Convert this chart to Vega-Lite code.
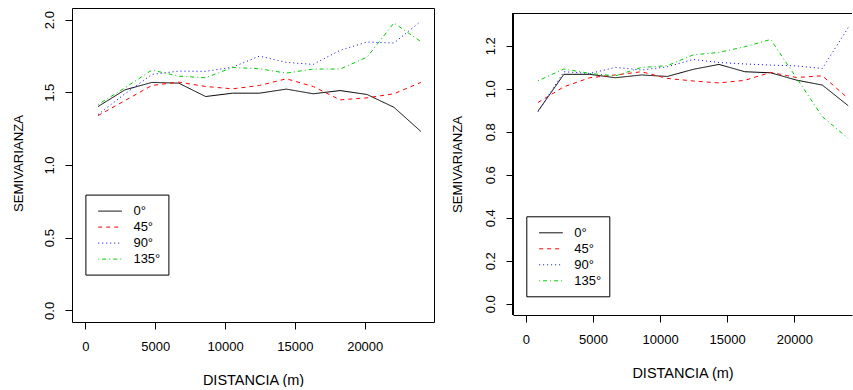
{
  "$schema": "https://vega.github.io/schema/vega-lite/v6.json",
  "background": "white",
  "padding": {"left": 11, "top": 7, "right": 0, "bottom": 0},
  "config": {
    "font": "Liberation Sans",
    "view": {"stroke": null},
    "axis": {
      "labelFont": "Liberation Sans", "labelFontSize": 13, "labelColor": "black",
      "titleFont": "Liberation Sans", "titleFontSize": 14, "titleFontWeight": "normal", "titleColor": "black",
      "tickColor": "black", "tickSize": 7, "domainColor": "black", "grid": false, "labelFlush": false
    },
    "axisX": {"titleFontSize": 14.5},
    "axisY": {"titleFontSize": 13.2},
    "legend": {"labelFont": "Liberation Sans"}
  },
  "datasets": {
    "left": [
      {"lag": 905, "g": 1.402, "dir": "0°"}, {"lag": 2831, "g": 1.517, "dir": "0°"}, {"lag": 4757, "g": 1.568, "dir": "0°"}, {"lag": 6683, "g": 1.563, "dir": "0°"}, {"lag": 8609, "g": 1.471, "dir": "0°"}, {"lag": 10535, "g": 1.494, "dir": "0°"}, {"lag": 12461, "g": 1.494, "dir": "0°"}, {"lag": 14387, "g": 1.522, "dir": "0°"}, {"lag": 16313, "g": 1.490, "dir": "0°"}, {"lag": 18239, "g": 1.512, "dir": "0°"}, {"lag": 20165, "g": 1.485, "dir": "0°"}, {"lag": 22091, "g": 1.397, "dir": "0°"}, {"lag": 24017, "g": 1.231, "dir": "0°"},
      {"lag": 905, "g": 1.340, "dir": "45°"}, {"lag": 2831, "g": 1.443, "dir": "45°"}, {"lag": 4757, "g": 1.547, "dir": "45°"}, {"lag": 6683, "g": 1.570, "dir": "45°"}, {"lag": 8609, "g": 1.540, "dir": "45°"}, {"lag": 10535, "g": 1.524, "dir": "45°"}, {"lag": 12461, "g": 1.547, "dir": "45°"}, {"lag": 14387, "g": 1.593, "dir": "45°"}, {"lag": 16313, "g": 1.540, "dir": "45°"}, {"lag": 18239, "g": 1.448, "dir": "45°"}, {"lag": 20165, "g": 1.462, "dir": "45°"}, {"lag": 22091, "g": 1.490, "dir": "45°"}, {"lag": 24017, "g": 1.568, "dir": "45°"},
      {"lag": 905, "g": 1.347, "dir": "90°"}, {"lag": 2831, "g": 1.490, "dir": "90°"}, {"lag": 4757, "g": 1.623, "dir": "90°"}, {"lag": 6683, "g": 1.646, "dir": "90°"}, {"lag": 8609, "g": 1.644, "dir": "90°"}, {"lag": 10535, "g": 1.673, "dir": "90°"}, {"lag": 12461, "g": 1.749, "dir": "90°"}, {"lag": 14387, "g": 1.706, "dir": "90°"}, {"lag": 16313, "g": 1.692, "dir": "90°"}, {"lag": 18239, "g": 1.789, "dir": "90°"}, {"lag": 20165, "g": 1.846, "dir": "90°"}, {"lag": 22091, "g": 1.839, "dir": "90°"}, {"lag": 24017, "g": 1.989, "dir": "90°"},
      {"lag": 905, "g": 1.416, "dir": "135°"}, {"lag": 2831, "g": 1.531, "dir": "135°"}, {"lag": 4757, "g": 1.653, "dir": "135°"}, {"lag": 6683, "g": 1.611, "dir": "135°"}, {"lag": 8609, "g": 1.600, "dir": "135°"}, {"lag": 10535, "g": 1.671, "dir": "135°"}, {"lag": 12461, "g": 1.662, "dir": "135°"}, {"lag": 14387, "g": 1.632, "dir": "135°"}, {"lag": 16313, "g": 1.660, "dir": "135°"}, {"lag": 18239, "g": 1.660, "dir": "135°"}, {"lag": 20165, "g": 1.742, "dir": "135°"}, {"lag": 22091, "g": 1.977, "dir": "135°"}, {"lag": 24017, "g": 1.849, "dir": "135°"}
    ],
    "right": [
      {"lag": 905, "g": 0.896, "dir": "0°"}, {"lag": 2831, "g": 1.067, "dir": "0°"}, {"lag": 4757, "g": 1.067, "dir": "0°"}, {"lag": 6683, "g": 1.051, "dir": "0°"}, {"lag": 8609, "g": 1.064, "dir": "0°"}, {"lag": 10535, "g": 1.057, "dir": "0°"}, {"lag": 12461, "g": 1.090, "dir": "0°"}, {"lag": 14387, "g": 1.113, "dir": "0°"}, {"lag": 16313, "g": 1.079, "dir": "0°"}, {"lag": 18239, "g": 1.074, "dir": "0°"}, {"lag": 20165, "g": 1.040, "dir": "0°"}, {"lag": 22091, "g": 1.017, "dir": "0°"}, {"lag": 24017, "g": 0.921, "dir": "0°"},
      {"lag": 905, "g": 0.936, "dir": "45°"}, {"lag": 2831, "g": 1.009, "dir": "45°"}, {"lag": 4757, "g": 1.051, "dir": "45°"}, {"lag": 6683, "g": 1.064, "dir": "45°"}, {"lag": 8609, "g": 1.079, "dir": "45°"}, {"lag": 10535, "g": 1.048, "dir": "45°"}, {"lag": 12461, "g": 1.036, "dir": "45°"}, {"lag": 14387, "g": 1.027, "dir": "45°"}, {"lag": 16313, "g": 1.039, "dir": "45°"}, {"lag": 18239, "g": 1.076, "dir": "45°"}, {"lag": 20165, "g": 1.052, "dir": "45°"}, {"lag": 22091, "g": 1.060, "dir": "45°"}, {"lag": 24017, "g": 0.955, "dir": "45°"},
      {"lag": 905, "g": 0.893, "dir": "90°"}, {"lag": 2831, "g": 1.079, "dir": "90°"}, {"lag": 4757, "g": 1.071, "dir": "90°"}, {"lag": 6683, "g": 1.099, "dir": "90°"}, {"lag": 8609, "g": 1.087, "dir": "90°"}, {"lag": 10535, "g": 1.102, "dir": "90°"}, {"lag": 12461, "g": 1.136, "dir": "90°"}, {"lag": 14387, "g": 1.122, "dir": "90°"}, {"lag": 16313, "g": 1.115, "dir": "90°"}, {"lag": 18239, "g": 1.110, "dir": "90°"}, {"lag": 20165, "g": 1.106, "dir": "90°"}, {"lag": 22091, "g": 1.094, "dir": "90°"}, {"lag": 24017, "g": 1.284, "dir": "90°"},
      {"lag": 905, "g": 1.037, "dir": "135°"}, {"lag": 2831, "g": 1.092, "dir": "135°"}, {"lag": 4757, "g": 1.071, "dir": "135°"}, {"lag": 6683, "g": 1.060, "dir": "135°"}, {"lag": 8609, "g": 1.099, "dir": "135°"}, {"lag": 10535, "g": 1.107, "dir": "135°"}, {"lag": 12461, "g": 1.157, "dir": "135°"}, {"lag": 14387, "g": 1.169, "dir": "135°"}, {"lag": 16313, "g": 1.195, "dir": "135°"}, {"lag": 18239, "g": 1.229, "dir": "135°"}, {"lag": 20165, "g": 1.050, "dir": "135°"}, {"lag": 22091, "g": 0.870, "dir": "135°"}, {"lag": 24017, "g": 0.769, "dir": "135°"}
    ]
  },
  "spacing": 15,
  "resolve": {
    "scale": {"color": "independent", "strokeDash": "independent"},
    "legend": {"color": "independent", "strokeDash": "independent"}
  },
  "hconcat": [
    {
      "width": 362, "height": 314,
      "view": {"stroke": "black", "strokeWidth": 1},
      "data": {"name": "left"},
      "mark": {"type": "line", "strokeWidth": 1},
      "encoding": {
        "x": {"field": "lag", "type": "quantitative",
          "scale": {"domain": [-960, 24960], "nice": false, "zero": false},
          "axis": {"values": [0, 5000, 10000, 15000, 20000], "format": "d", "title": "DISTANCIA (m)", "domain": false, "labelPadding": 11, "titlePadding": 20}},
        "y": {"field": "g", "type": "quantitative",
          "scale": {"domain": [-0.08, 2.08], "nice": false, "zero": false},
          "axis": {"values": [0, 0.5, 1, 1.5, 2], "format": ".1f", "title": "SEMIVARIANZA", "titleY": 155, "domain": false, "labelAngle": 270, "labelAlign": "center", "labelBaseline": "alphabetic", "labelPadding": 12, "titlePadding": 17.5}},
        "color": {"field": "dir", "type": "nominal",
          "scale": {"domain": ["0°", "45°", "90°", "135°"], "range": ["#000000", "#FF0000", "#0000FF", "#00CD00"]},
          "legend": {"title": null, "orient": "none", "legendX": 13.4, "legendY": 186.6, "strokeColor": "black", "fillColor": "white", "padding": 8, "cornerRadius": 0, "symbolType": "M-0.46,0L2.5,0", "symbolSize": 256, "symbolStrokeWidth": 1, "labelFontSize": 13, "labelColor": "black", "labelOffset": 23, "rowPadding": 0}},
        "strokeDash": {"field": "dir", "type": "nominal",
          "scale": {"domain": ["0°", "45°", "90°", "135°"], "range": [[1, 0], [4, 4], [1, 3], [1, 3, 4, 3]]},
          "legend": {"title": null, "orient": "none", "legendX": 13.4, "legendY": 186.6, "strokeColor": "black", "fillColor": "white", "padding": 8, "cornerRadius": 0, "symbolType": "M-0.46,0L2.5,0", "symbolSize": 256, "symbolStrokeWidth": 1, "labelFontSize": 13, "labelColor": "black", "labelOffset": 23, "rowPadding": 0}}
      }
    },
    {
      "width": 339, "height": 307,
      "data": {"name": "right"},
      "layer": [
        {
          "mark": {"type": "line", "strokeWidth": 1},
          "encoding": {
            "x": {"field": "lag", "type": "quantitative",
              "scale": {"domain": [-960, 24300], "nice": false, "zero": false},
              "axis": {"values": [0, 5000, 10000, 15000, 20000], "format": "d", "title": "DISTANCIA (m)", "domain": true, "labelPadding": 11, "titlePadding": 20}},
            "y": {"field": "g", "type": "quantitative",
              "scale": {"domain": [-0.052, 1.3753], "nice": false, "zero": false},
              "axis": {"values": [0, 0.2, 0.4, 0.6, 0.8, 1.0, 1.2], "format": ".1f", "title": "SEMIVARIANZA", "titleY": 156, "domain": false, "labelAngle": 270, "labelAlign": "center", "labelBaseline": "alphabetic", "labelPadding": 12, "titlePadding": 20}},
            "color": {"field": "dir", "type": "nominal",
              "scale": {"domain": ["0°", "45°", "90°", "135°"], "range": ["#000000", "#FF0000", "#0000FF", "#00CD00"]},
              "legend": {"title": null, "orient": "none", "legendX": 13.3, "legendY": 208.3, "strokeColor": "black", "fillColor": "white", "padding": 8, "cornerRadius": 0, "symbolType": "M-0.46,0L2.5,0", "symbolSize": 256, "symbolStrokeWidth": 1, "labelFontSize": 13, "labelColor": "black", "labelOffset": 23, "rowPadding": 0}},
            "strokeDash": {"field": "dir", "type": "nominal",
              "scale": {"domain": ["0°", "45°", "90°", "135°"], "range": [[1, 0], [4, 4], [1, 3], [1, 3, 4, 3]]},
              "legend": {"title": null, "orient": "none", "legendX": 13.3, "legendY": 208.3, "strokeColor": "black", "fillColor": "white", "padding": 8, "cornerRadius": 0, "symbolType": "M-0.46,0L2.5,0", "symbolSize": 256, "symbolStrokeWidth": 1, "labelFontSize": 13, "labelColor": "black", "labelOffset": 23, "rowPadding": 0}}
          }
        },
        {
          "mark": {"type": "rule", "color": "black", "strokeWidth": 1},
          "encoding": {"y": {"datum": 1.3497}}
        },
        {
          "mark": {"type": "rule", "color": "black", "strokeWidth": 1},
          "encoding": {"x": {"datum": -960}, "y": {"datum": -0.052}, "y2": {"datum": 1.3497}}
        }
      ]
    }
  ]
}
